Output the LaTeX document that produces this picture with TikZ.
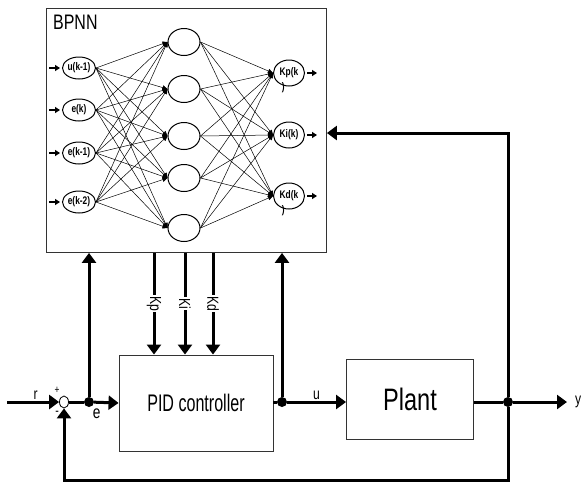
\documentclass[tikz,border=0pt]{standalone}
\usepackage{fontspec}
\setmainfont{Liberation Sans}[FakeStretch=0.76]
\newfontfamily\narrowfont{Liberation Sans}[FakeStretch=0.67]
\usetikzlibrary{arrows.meta,positioning,shapes.geometric}
\tikzset{
  block/.style={draw=black!80,line width=0.9pt,fill=white,align=center},
  neuron/.style={draw,ellipse,line width=1pt,minimum width=33pt,
    minimum height=22pt,inner sep=0pt,font=\fontsize{11}{11}\selectfont\bfseries},
  hiddenunit/.style={neuron,minimum width=32pt,minimum height=27pt},
  synapse/.style={-{Triangle[length=5pt,width=4.5pt]},line width=0.5pt},
  feedarrow/.style={-{Triangle[length=5pt,width=6pt]},line width=1.6pt},
  sigline/.style={-{Triangle[length=10pt,width=14pt]},line width=3pt},
  wire/.style={line width=3pt},
  branch/.style={circle,fill,inner sep=0pt,minimum size=10pt},
  lab/.style={font=\fontsize{16}{16}\selectfont,inner sep=1pt},
  gain/.style={midway,fill=white,rotate=-90,inner sep=1pt,font=\fontsize{16}{16}\selectfont},
  paren/.style={font=\fontsize{11}{11}\selectfont\bfseries,inner sep=0pt,label distance=-4pt},
}
\begin{document}
\begin{tikzpicture}[x=1pt,y=-1pt]
\useasboundingbox (0,0) rectangle (584,483);
% neural network
\node[block,minimum width=280pt,minimum height=244pt,anchor=north west] (bpnn) at (46,8) {};
\node[anchor=north west,font=\fontsize{21}{21}\selectfont,inner sep=0pt] (bpnnlab) at (53,15) {BPNN};
\node[neuron] (in1) at (79,68) {u(k-1)};
\node[neuron] (in2) at (79,110) {e(k)};
\node[neuron] (in3) at (79,153) {e(k-1)};
\node[neuron] (in4) at (79,202) {e(k-2)};
\node[hiddenunit] (h1) at (184,42) {};
\node[hiddenunit] (h2) at (184,89) {};
\node[hiddenunit] (h3) at (184,136) {};
\node[hiddenunit] (h4) at (184,178) {};
\node[hiddenunit] (h5) at (184,228) {};
\node[neuron,minimum width=31pt,minimum height=26pt,label={[paren]-115:{)}}] (o1) at (289,73) {Kp(k};
\node[neuron,minimum width=31pt,minimum height=26pt] (o2) at (289,135) {Ki(k)};
\node[neuron,minimum width=31pt,minimum height=26pt,label={[paren]-115:{)}}] (o3) at (289,196) {Kd(k};
\foreach \i in {1,...,4} {
  \draw[feedarrow] ([xshift=-13pt]in\i.west) -- ([xshift=-2pt]in\i.west);
  \foreach \j in {1,...,5}
    \draw[synapse] (in\i.east) -- (h\j.west);
}
\foreach \j in {1,...,5}
  \foreach \k in {1,2,3}
    \draw[synapse] (h\j.east) -- (o\k.west);
\foreach \k in {1,2,3}
  \draw[feedarrow] ([xshift=2pt]o\k.east) -- ([xshift=12pt]o\k.east);
% control loop
\node[draw,ellipse,line width=0.8pt,minimum width=9pt,minimum height=12pt,inner sep=0pt,
  label={[lab,font=\fontsize{11}{11}\selectfont,label distance=2pt]115:+},
  label={[lab,font=\fontsize{14}{14}\selectfont,label distance=3pt]-115:-}] (sum) at (64,402) {};
\coordinate (rin) at (7,402);
\node[branch,label={[lab,font=\fontsize{18}{18}\selectfont,label distance=1pt]-65:e}] (ebr) at (89,402) {};
\node[block,minimum width=154pt,minimum height=96pt,font=\narrowfont\fontsize{24}{24}\selectfont] (pid) at (196,403) {PID controller};
\node[branch] (ubr) at (282,402) {};
\node[block,minimum width=127pt,minimum height=80pt,font=\fontsize{31}{31}\selectfont] (plant) at (410,399) {Plant};
\node[branch] (ybr) at (508,402) {};
\coordinate (yout) at (567,402);
\node[lab,right=7pt of yout] (ylab) {y};
\coordinate (fbtop) at (508,133);
\coordinate (fbbot) at (508,480);
\draw[sigline] (rin) -- node[lab,above,pos=0.55]{r} (sum.west);
\draw[wire] (sum.east) -- (ebr);
\draw[sigline] (ebr) -- (pid.west);
\draw[sigline] (ebr) -- (ebr |- bpnn.south);
\draw[sigline] ([xshift=-42pt]pid.north |- bpnn.south) -- node[gain]{Kp} ([xshift=-42pt]pid.north);
\draw[sigline] ([xshift=-11pt]pid.north |- bpnn.south) -- node[gain]{Ki} ([xshift=-11pt]pid.north);
\draw[sigline] ([xshift=17pt]pid.north |- bpnn.south) -- node[gain]{Kd} ([xshift=17pt]pid.north);
\draw[wire] (pid.east |- ubr) -- (ubr);
\draw[sigline] (ubr) -- node[lab,above,pos=0.5]{u} (plant.west |- ubr);
\draw[sigline] (ubr) -- (ubr |- bpnn.south);
\draw[wire] (plant.east |- ybr) -- (ybr);
\draw[sigline] (ybr) -- (yout);
\draw[sigline] (ybr) -- (fbtop) -- (fbtop -| bpnn.east);
\draw[sigline] (ybr) -- (fbbot) -| (sum.south);
\end{tikzpicture}
\end{document}
